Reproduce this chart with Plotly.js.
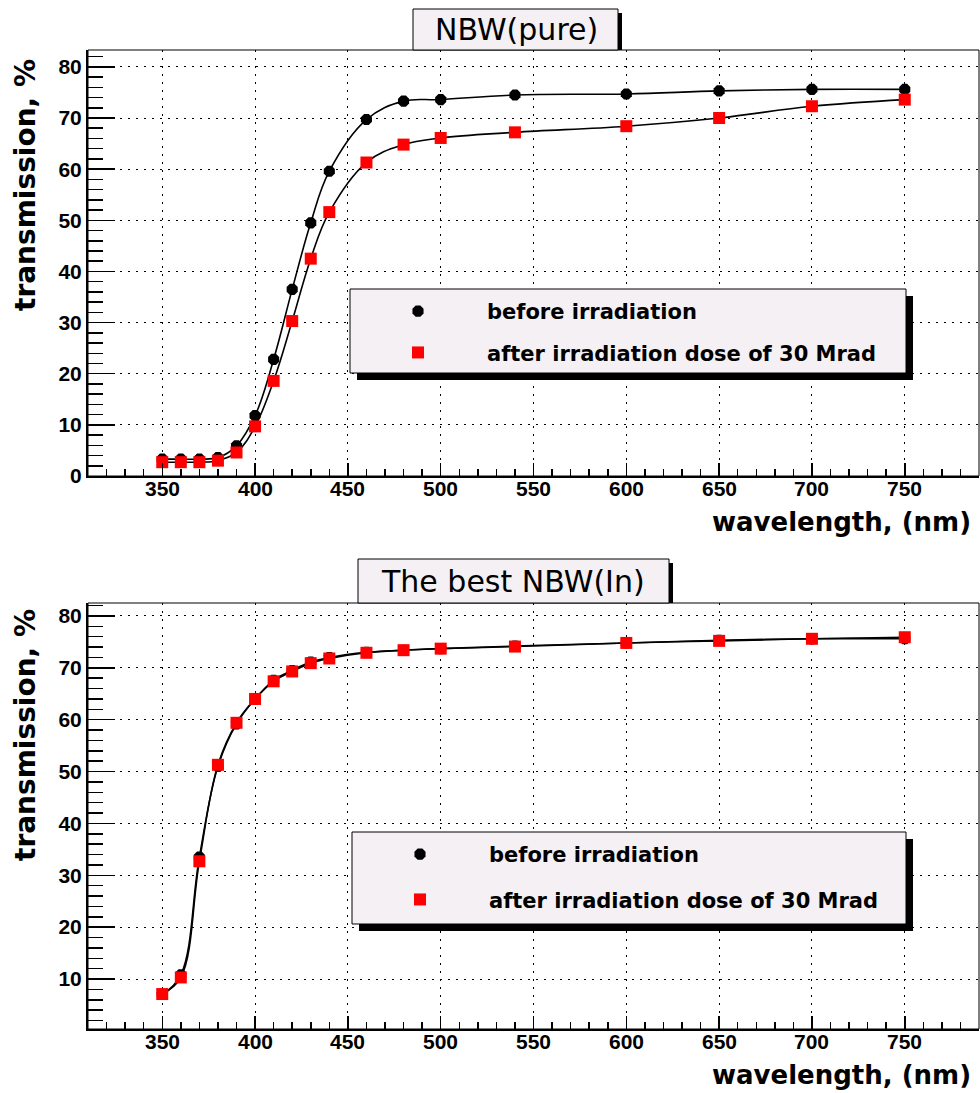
<!DOCTYPE html>
<html>
<head>
<meta charset="utf-8">
<script src="https://cdn.plot.ly/plotly-3.0.1.min.js"></script>
<style>
  html, body { margin: 0; padding: 0; background: #ffffff; }
  #chart { width: 980px; height: 1093px; }
</style>
</head>
<body>
<div id="chart"></div>
<script>
// ---- data ----
const wavelength = [350, 360, 370, 380, 390, 400, 410, 420, 430, 440, 460, 480, 500, 540, 600, 650, 700, 750];
const pureBefore = [3.3, 3.3, 3.3, 3.6, 5.9, 11.8, 22.8, 36.5, 49.5, 59.6, 69.7, 73.3, 73.6, 74.5, 74.7, 75.3, 75.6, 75.6];
const pureAfter  = [2.7, 2.7, 2.7, 3.0, 4.6, 9.7, 18.6, 30.3, 42.5, 51.6, 61.3, 64.8, 66.1, 67.2, 68.4, 70.0, 72.3, 73.6];
const inBefore   = [7.0, 10.8, 33.5, 51.0, 59.2, 64.0, 67.6, 69.5, 71.1, 72.0, 73.0, 73.4, 73.7, 74.2, 74.8, 75.3, 75.6, 75.6];
const inAfter    = [7.1, 10.3, 32.7, 51.3, 59.4, 64.0, 67.4, 69.3, 70.9, 71.8, 72.9, 73.4, 73.7, 74.1, 74.8, 75.2, 75.6, 75.9];

const xTickValues = [350, 400, 450, 500, 550, 600, 650, 700, 750];
const seriesNames = ["before irradiation", "after irradiation dose of 30 Mrad"];
const panelTitles = ["NBW(pure)", "The best NBW(In)"];
const xTitle = "wavelength, (nm)";
const yTitle = "transmission, %";

// ---- layout helpers (pixel -> paper) ----
const W = 980, H = 1093;
const px = v => v / W;
const py = v => 1 - v / H;

const BOX_BG = "#f4f0f4";
const tickFont = { family: "Liberation Sans, Arial, sans-serif", size: 21, color: "#000", weight: "bold" };

function lineTrace(y, xa, ya) {
  return { x: wavelength, y: y, xaxis: xa, yaxis: ya, type: "scatter", mode: "lines",
           line: { color: "#000", width: 1.6, shape: "spline", smoothing: 1.1 },
           showlegend: false, hoverinfo: "skip" };
}
function markerTrace(y, xa, ya, name, symbol, color, size, legend, group) {
  return { x: wavelength, y: y, xaxis: xa, yaxis: ya, type: "scatter", mode: "markers", name: name,
           marker: { symbol: symbol, color: color, size: size, line: { width: 0 } },
           legend: legend, legendgroup: group, showlegend: true };
}

const data = [
  lineTrace(pureBefore, "x", "y"),
  lineTrace(pureAfter, "x", "y"),
  markerTrace(pureBefore, "x", "y", seriesNames[0], "octagon", "#000000", 12, "legend", "b1"),
  markerTrace(pureAfter, "x", "y", seriesNames[1], "square", "#ff0000", 12, "legend", "a1"),
  lineTrace(inBefore, "x2", "y2"),
  lineTrace(inAfter, "x2", "y2"),
  markerTrace(inBefore, "x2", "y2", seriesNames[0], "octagon", "#000000", 12, "legend2", "b2"),
  markerTrace(inAfter, "x2", "y2", seriesNames[1], "square", "#ff0000", 12, "legend2", "a2")
];

function xAxis(anchor) {
  return {
    domain: [px(88), px(979)], anchor: anchor, range: [310, 790],
    tickmode: "array", tickvals: xTickValues, showticklabels: false,
    ticks: "inside", ticklen: 13, tickwidth: 1.5, tickcolor: "#000",
    minor: { dtick: 10, tick0: 0, ticks: "inside", ticklen: 7, tickwidth: 1.5, tickcolor: "#000", showgrid: false },
    showgrid: true, gridcolor: "#000", gridwidth: 1, griddash: "2px,6px",
    showline: true, linecolor: "#000", linewidth: 2, mirror: false, zeroline: false,
    fixedrange: true
  };
}
function yAxis(domain, range, anchor) {
  return {
    domain: domain, anchor: anchor, range: range,
    tick0: 0, dtick: 10, ticks: "inside", ticklen: 27, tickwidth: 1.5, tickcolor: "#000",
    minor: { dtick: 2, ticks: "inside", ticklen: 15, tickwidth: 1.5, tickcolor: "#000", showgrid: false },
    showgrid: true, gridcolor: "#000", gridwidth: 1, griddash: "2px,6px",
    showline: true, linecolor: "#000", linewidth: 2, mirror: false, zeroline: false,
    tickfont: tickFont, fixedrange: true
  };
}

function rectPx(x0, y0, x1, y1, fill, lw, layer) {
  return { type: "rect", xref: "paper", yref: "paper", x0: px(x0), x1: px(x1), y0: py(y1), y1: py(y0),
           fillcolor: fill, line: { color: "#000", width: lw }, layer: layer || "above" };
}

const shapes = [
  // plot frames
  rectPx(88, 50, 979, 476, "rgba(0,0,0,0)", 1, "above"),
  rectPx(88, 603, 979, 1029, "rgba(0,0,0,0)", 1, "above"),
  // title boxes (shadow + box)
  rectPx(417, 13, 622, 50, "#000", 0),
  rectPx(413, 9, 618, 50, BOX_BG, 1),
  rectPx(362, 563, 673, 603, "#000", 0),
  rectPx(358, 559, 669, 603, BOX_BG, 1),
  // legend boxes (shadow + box)
  rectPx(357, 296, 913, 380, "#000", 0),
  rectPx(350, 289, 906, 373, BOX_BG, 1),
  rectPx(359, 839, 913, 931, "#000", 0),
  rectPx(352, 832, 906, 924, BOX_BG, 1)
];

const titleFont = { family: "DejaVu Sans, sans-serif", size: 30, color: "#000" };
const yTitleFont = { family: "DejaVu Sans, sans-serif", size: 28, color: "#000", weight: "bold" };
const xTitleFont = { family: "DejaVu Sans, sans-serif", size: 26, color: "#000", weight: "bold" };

function ann(text, x, y, xa, ya, font, angle) {
  return { text: text, xref: "paper", yref: "paper", x: px(x), y: py(y), xanchor: xa, yanchor: ya,
           showarrow: false, font: font, textangle: angle || 0 };
}

const annotations = [
  ann(panelTitles[0], 516, 30, "center", "middle", titleFont),
  ann(panelTitles[1], 513, 581, "center", "middle", titleFont),
  ann(yTitle, 25, 57, "center", "top", yTitleFont, -90),
  ann(yTitle, 25, 607, "center", "top", yTitleFont, -90),
  ann(xTitle, 973, 522, "right", "middle", xTitleFont),
  ann(xTitle, 973, 1075, "right", "middle", xTitleFont)
];

// x tick labels placed at the tick values through the x axes
[["x", 488], ["x2", 1041]].forEach(([xa, yPix]) => {
  xTickValues.forEach(v => {
    annotations.push({ text: String(v), xref: xa, yref: "paper", x: v, y: py(yPix),
                       xanchor: "center", yanchor: "middle", showarrow: false, font: tickFont, borderpad: 0 });
  });
});

const legendFont = { family: "DejaVu Sans, sans-serif", size: 21, color: "#000", weight: "bold" };

const layout = {
  width: W, height: H,
  margin: { l: 0, r: 0, t: 0, b: 0, pad: 0 },
  paper_bgcolor: "#ffffff", plot_bgcolor: "#ffffff",
  xaxis: xAxis("y"),
  yaxis: yAxis([py(476), py(50)], [0, 83.3], "x"),
  xaxis2: xAxis("y2"),
  yaxis2: yAxis([py(1029), py(603)], [0.36, 82.5], "x2"),
  shapes: shapes,
  annotations: annotations,
  legend: { x: px(349), y: py(291), xanchor: "left", yanchor: "top", xref: "paper", yref: "paper",
            bgcolor: "rgba(0,0,0,0)", borderwidth: 0, font: legendFont, itemwidth: 128,
            traceorder: "grouped", tracegroupgap: 11 },
  legend2: { x: px(351), y: py(834), xanchor: "left", yanchor: "top", xref: "paper", yref: "paper",
             bgcolor: "rgba(0,0,0,0)", borderwidth: 0, font: legendFont, itemwidth: 128,
             traceorder: "grouped", tracegroupgap: 15 },
  showlegend: true
};

Plotly.newPlot("chart", data, layout, { displayModeBar: false, staticPlot: true });
</script>
</body>
</html>
